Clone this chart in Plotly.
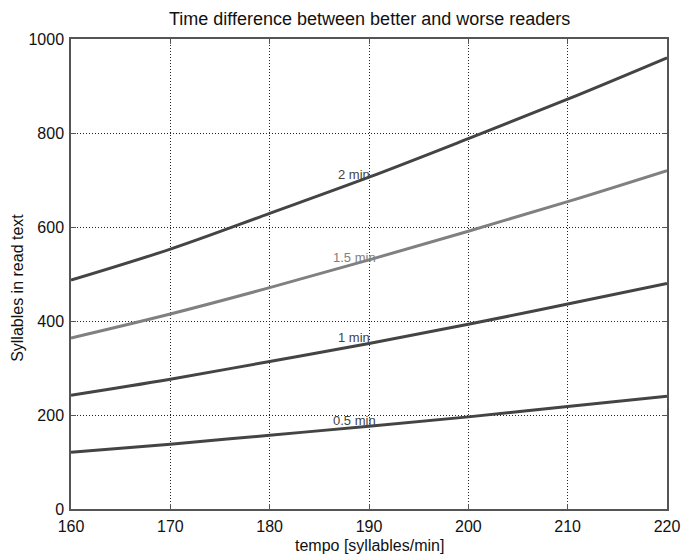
import plotly.graph_objects as go

tempo = [160, 170, 180, 190, 200, 210, 220]
syl_05 = [121, 138, 157, 176, 196, 218, 240]
syl_10 = [242, 276, 314, 352, 393, 436, 480]
syl_15 = [364, 415, 471, 530, 591, 654, 720]
syl_20 = [487, 553, 629, 706, 788, 872, 960]

labels = ["0.5 min", "1 min", "1.5 min", "2 min"]
label_x = [188.5, 188.5, 188.5, 188.5]
label_y = [189, 364, 536, 711]

x_ticks = [160, 170, 180, 190, 200, 210, 220]
y_ticks = [0, 200, 400, 600, 800, 1000]

series = [syl_05, syl_10, syl_15, syl_20]
colors = ["#444444", "#444444", "#808080", "#444444"]

FONT = "Liberation Sans, Arial, Helvetica, sans-serif"

fig = go.Figure()
for s, c in zip(series, colors):
    fig.add_trace(go.Scatter(x=tempo, y=s, mode="lines",
                             line=dict(color=c, width=3, shape="spline"),
                             showlegend=False, hoverinfo="skip"))

for lab, lx, ly, c in zip(labels, label_x, label_y, colors):
    fig.add_annotation(x=lx, y=ly, text=lab, showarrow=False,
                       font=dict(size=13, color=c, family=FONT),
                       xanchor="center", yanchor="middle")

axis_common = dict(showline=True, linecolor="#555555", linewidth=1.5, mirror="allticks",
                   ticks="inside", ticklen=5, tickcolor="#555555",
                   showgrid=True, gridcolor="#222222", griddash="1px,2px", gridwidth=1,
                   zeroline=False, automargin=False,
                   tickfont=dict(size=16, color="#111111", family=FONT))

fig.update_xaxes(range=[160, 220], tickvals=x_ticks, ticklabelstandoff=2, **axis_common)
fig.update_yaxes(range=[0, 1000], tickvals=y_ticks, ticklabelstandoff=2, **axis_common)

fig.add_annotation(text="tempo [syllables/min]", xref="paper", yref="paper",
                   x=0.5, y=-0.077, xanchor="center", yanchor="middle", showarrow=False,
                   font=dict(size=16, color="#111111", family=FONT))
fig.add_annotation(text="Syllables in read text", xref="paper", yref="paper",
                   x=-0.091, y=0.47, xanchor="center", yanchor="middle", showarrow=False,
                   textangle=-90, font=dict(size=16, color="#111111", family=FONT))
fig.add_annotation(text="Time difference between better and worse readers", xref="paper", yref="paper",
                   x=0.5, y=1.043, xanchor="center", yanchor="middle", showarrow=False,
                   font=dict(size=18, color="#111111", family=FONT))

fig.update_layout(
    width=683, height=555,
    margin=dict(l=71, r=16, t=39, b=46),
    paper_bgcolor="white", plot_bgcolor="white",
    font=dict(family=FONT, color="#111111"),
)

fig.write_html("out.html", config={"displayModeBar": False},
               post_script="document.body.style.margin='0';")
